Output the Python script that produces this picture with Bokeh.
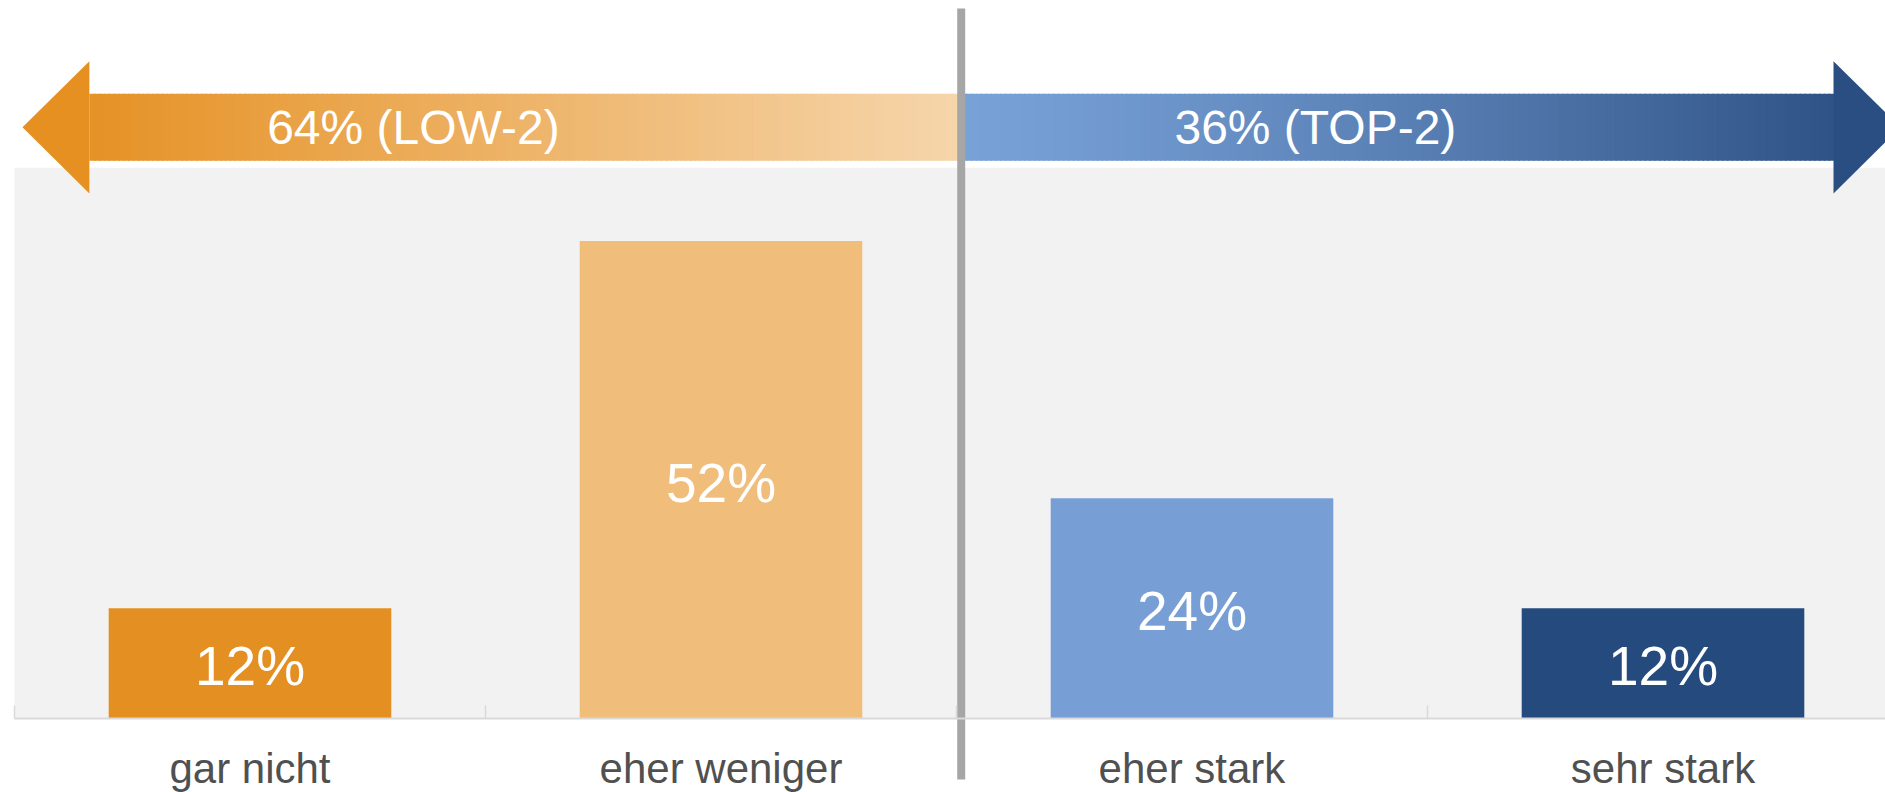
import numpy as np
from bokeh.plotting import figure
from bokeh.models import Range1d, LinearAxis, FixedTicker, ColumnDataSource, CustomJSTickFormatter
from bokeh.core.properties import value
from bokeh.embed import file_html
from bokeh.resources import INLINE

# ---- data ----
categories = ["gar nicht", "eher weniger", "eher stark", "sehr stark"]
values = [12, 52, 24, 12]
bar_colors = ["#E48F21", "#F0BD7B", "#779FD6", "#254B7E"]
low_name = "LOW-2"
top_name = "TOP-2"
low_share = values[0] + values[1]
top_share = values[2] + values[3]
axis_max = 60

FONT = value("Liberation Sans")

n_cat = len(categories)
xs = [i + 0.5 for i in range(n_cat)]

p = figure(width=1885, height=792, output_backend="svg", toolbar_location=None,
           x_range=Range1d(-0.0297, 3.9724), y_range=Range1d(-8.06, 78.21),
           min_border=0, x_axis_type=None, y_axis_type=None)
p.outline_line_color = None
p.background_fill_color = "white"
p.border_fill_color = "white"

# plot background (value area)
p.quad(left=[0], right=[n_cat], bottom=[0], top=[axis_max],
       fill_color="#F2F2F2", line_color=None)

# bars
src = ColumnDataSource(dict(x=xs, top=values, color=bar_colors,
                            mid=[v / 2 for v in values],
                            label=[f"{v}%" for v in values]))
p.vbar(x="x", top="top", bottom=0, width=0.6, fill_color="color",
       line_color=None, source=src)
p.text(x="x", y="mid", text="label", source=src, text_align="center",
       text_baseline="middle", text_color="white", text_font=FONT,
       text_font_size="55px", y_offset=3)

# axis at y=0
ax = LinearAxis(fixed_location=0, bounds=(0, n_cat),
                ticker=FixedTicker(ticks=xs, minor_ticks=list(range(n_cat + 1))),
                formatter=CustomJSTickFormatter(args=dict(labels=categories),
                                                code="return labels[Math.floor(tick)]"))
ax.axis_line_color = "#D9D9D9"
ax.axis_line_width = 2
ax.major_tick_line_color = None
ax.minor_tick_line_color = "#D9D9D9"
ax.minor_tick_line_width = 1.5
ax.minor_tick_in = 13
ax.minor_tick_out = 0
ax.major_label_text_font = "Liberation Sans"
ax.major_label_text_font_size = "42px"
ax.major_label_text_color = "#505050"
ax.major_label_standoff = 20
p.add_layout(ax, "below")

# ---- gradient arrows ----
def hex2rgb(h):
    h = h.lstrip("#")
    return np.array([int(h[i:i + 2], 16) for i in (0, 2, 4)], dtype=float)

def grad(c1, c2, t):
    a, b = hex2rgb(c1), hex2rgb(c2)
    out = []
    for tt in t:
        c = a + (b - a) * tt
        out.append("#%02x%02x%02x" % tuple(int(round(v)) for v in c))
    return out

divider = 2.01
y_mid = 64.4
shaft_h = 3.65
head_h = 7.2
head_len = 0.142

# left arrow (LOW)
l_tip = 0.017
l_back = l_tip + head_len
n = 180
edges = np.linspace(l_back, divider, n + 1)
t = (edges[:-1] - l_tip) / (divider - l_tip)
cols = grad("#E48D1C", "#F6D6AC", t)
p.quad(left=edges[:-1], right=edges[1:] + 0.003, bottom=y_mid - shaft_h,
       top=y_mid + shaft_h, fill_color=cols, line_color=None)
p.patch(x=[l_tip, l_back, l_back], y=[y_mid, y_mid + head_h, y_mid - head_h],
        fill_color=grad("#E48D1C", "#F6D6AC", [0.035])[0], line_color=None)

# right arrow (TOP)
r_tip = n_cat + 0.004
r_back = r_tip - head_len
edges = np.linspace(divider, r_back, n + 1)
t = ((edges[:-1] - divider) / (r_tip - divider)) ** 1.25
cols = grad("#78A1D7", "#284B7E", t)
p.quad(left=edges[:-1], right=edges[1:] + 0.003, bottom=y_mid - shaft_h,
       top=y_mid + shaft_h, fill_color=cols, line_color=None)
p.patch(x=[r_back, r_tip, r_back], y=[y_mid + head_h, y_mid, y_mid - head_h],
        fill_color=grad("#78A1D7", "#284B7E", [0.97])[0], line_color=None)

p.text(x=[0.847, 2.762], y=[y_mid, y_mid],
       text=[f"{low_share}% ({low_name})", f"{top_share}% ({top_name})"],
       text_align="center", text_baseline="middle", text_color="white",
       text_font=FONT, text_font_size="48px")

# divider line
p.segment(x0=[divider], y0=[-6.65], x1=[divider], y1=[77.34],
          line_color="#A6A6A6", line_width=8)

open("out.html", "w").write(file_html(p, INLINE))
